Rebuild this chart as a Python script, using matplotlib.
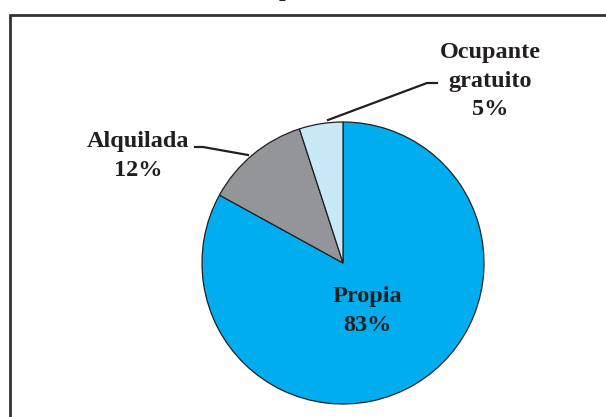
import matplotlib
matplotlib.use("Agg")
import matplotlib.pyplot as plt
from matplotlib.patches import Rectangle

categories = ["Propia", "Alquilada", "Ocupante\ngratuito"]
values = [83, 12, 5]
colors = ["#00AEEF", "#939598", "#C8E9F8"]

W, H = 606, 417
fig = plt.figure(figsize=(W / 100, H / 100), dpi=100)
ax = fig.add_axes([0, 0, 1, 1])

def Y(p):
    return H - p

wedges, _ = ax.pie(values, colors=colors, startangle=90, counterclock=False,
                   center=(343, Y(263)), radius=141,
                   wedgeprops=dict(edgecolor="#231F20", linewidth=0.9))
ax.set_xlim(0, W)
ax.set_ylim(0, H)
ax.set_aspect("equal")
ax.axis("off")

# frame
ax.add_patch(Rectangle((9.5, Y(440)), 620, 440 - 14.5, fill=False,
                       edgecolor="#333333", linewidth=2.0, clip_on=False))

font = dict(family="Liberation Serif", fontweight="bold", fontsize=17.5,
            color="#231F20", ha="center", va="center", linespacing=1.45)

ax.text(367, Y(311), f"{categories[0]}\n{values[0]}%", **font)
ax.text(138, Y(156), f"{categories[1]}\n{values[1]}%", **font)
ax.text(490, Y(81), f"{categories[2]}\n{values[2]}%", **font)

# leader lines
ax.plot([195, 203, 248], [Y(147), Y(147), Y(155)], color="#231F20", lw=1.6)
ax.plot([437, 427, 328], [Y(83), Y(83), Y(120)], color="#231F20", lw=1.6)

# cut-off title fragment
ax.text(285, Y(-4), "p", family="Liberation Serif", fontweight="bold",
        fontsize=17.5, color="#231F20", ha="center", va="baseline", clip_on=False)

fig.savefig("out.png", dpi=100)
